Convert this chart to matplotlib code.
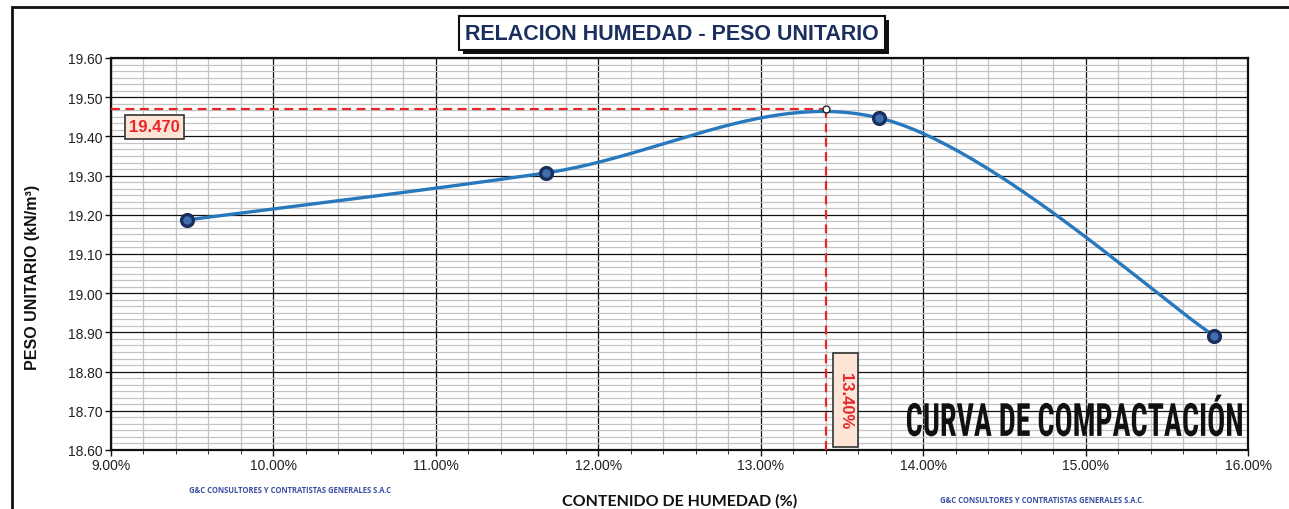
import numpy as np
import matplotlib
matplotlib.use("Agg")
import matplotlib.pyplot as plt
from matplotlib.ticker import MultipleLocator, FuncFormatter
from matplotlib.patches import Rectangle
from matplotlib.patheffects import AbstractPathEffect
from matplotlib.transforms import Affine2D

# Proctor test results
humedad = [9.47, 11.68, 13.73, 15.79]             # % moisture content
peso_unitario = [19.187, 19.307, 19.447, 18.892]  # kN/m3

# optimum from the compaction curve
hum_optima = 13.40
peso_max = 19.470

x_lim = (9.0, 16.0)
y_lim = (18.60, 19.60)

titulo = "RELACION HUMEDAD - PESO UNITARIO"
x_label = "CONTENIDO DE HUMEDAD (%)"
y_label = "PESO UNITARIO (kN/m³)"
rotulo = "CURVA DE COMPACTACIÓN"
empresa = "G&C CONSULTORES Y CONTRATISTAS GENERALES S.A.C"

LINE_BLUE = "#2878BD"
NAVY = "#1B2F5E"
RED = "#E8262A"


def catmull_rom(pts, n=60):
    # Excel-style smoothed line through the points (display space)
    pts = np.asarray(pts, dtype=float)
    ext = np.vstack([pts[0], pts, pts[-1]])
    out = []
    for i in range(1, len(ext) - 2):
        p0, p1, p2, p3 = ext[i - 1], ext[i], ext[i + 1], ext[i + 2]
        m1 = (p2 - p0) / 2.0
        m2 = (p3 - p1) / 2.0
        t = np.linspace(0, 1, n)[:, None]
        h00 = 2 * t**3 - 3 * t**2 + 1
        h10 = t**3 - 2 * t**2 + t
        h01 = -2 * t**3 + 3 * t**2
        h11 = t**3 - t**2
        out.append(h00 * p1 + h10 * m1 + h01 * p2 + h11 * m2)
    return np.vstack(out)


class Stretch(AbstractPathEffect):
    """Stretch a text vertically around its baseline."""

    def __init__(self, text, sy=1.0):
        super().__init__()
        self.text = text
        self.sy = sy

    def draw_path(self, renderer, gc, tpath, affine, rgbFace=None):
        _, y0 = self.text.get_transform().transform(self.text.get_position())
        aff = affine + Affine2D().translate(0, -y0).scale(1, self.sy).translate(0, y0)
        renderer.draw_path(gc, tpath, aff, rgbFace)


fig = plt.figure(figsize=(12.89, 5.10), dpi=100)
fig.patch.set_facecolor("white")

# outer frame of the sheet
fig.patches.append(Rectangle((12 / 1289, -0.1), 1.2, 1 - 8 / 510 + 0.1,
                             transform=fig.transFigure, fill=False,
                             edgecolor="#111111", lw=2))

ax = fig.add_axes([111 / 1289, 59 / 510, (1248 - 111) / 1289, (451 - 59) / 510])
ax.set_xlim(*x_lim)
ax.set_ylim(*y_lim)

# grid
ax.xaxis.set_major_locator(MultipleLocator(1.0))
ax.xaxis.set_minor_locator(MultipleLocator(0.2))
ax.yaxis.set_major_locator(MultipleLocator(0.10))
ax.yaxis.set_minor_locator(MultipleLocator(0.1 / 6))
ax.grid(which="minor", color="#c4c4c4", lw=0.9)
ax.grid(which="major", color="#111111", lw=0.9)
ax.set_axisbelow(True)
for s in ax.spines.values():
    s.set_color("#111111")
    s.set_linewidth(1.6)

ax.xaxis.set_major_formatter(FuncFormatter(lambda v, p: f"{v:.2f}%"))
ax.yaxis.set_major_formatter(FuncFormatter(lambda v, p: f"{v:.2f}"))
ax.tick_params(which="major", direction="out", length=4, width=1, color="#111111",
               labelsize=10, pad=2)
ax.tick_params(axis="y", which="minor", length=0)
ax.tick_params(axis="x", which="minor", direction="out", length=3, color="#111111")
for lab in ax.get_xticklabels() + ax.get_yticklabels():
    lab.set_fontfamily("Liberation Sans")
    lab.set_color("#222222")

ax.set_xlabel(x_label, fontfamily="Lato", fontweight="bold", fontsize=11.5,
              color="#111111", labelpad=15)
ax.set_ylabel(y_label, fontfamily="Liberation Sans", fontweight="bold", fontsize=11.5,
              color="#111111")
ax.yaxis.set_label_coords(-0.0624, 0.444)

# smoothed compaction curve
disp = ax.transData.transform(np.column_stack([humedad, peso_unitario]))
curve = ax.transData.inverted().transform(catmull_rom(disp))
ax.plot(curve[:, 0], curve[:, 1], color=LINE_BLUE, lw=2.4, zorder=4)
ax.plot(humedad, peso_unitario, "o", ms=8.5, mfc="#3D6FB0", mec=NAVY, mew=2.4, zorder=5)

# optimum lines
ax.plot([x_lim[0], hum_optima], [peso_max, peso_max], color=RED, lw=1.6,
        dashes=(4, 2.5), zorder=3)
ax.plot([hum_optima, hum_optima], [y_lim[0], peso_max], color=RED, lw=1.6,
        dashes=(4, 2.5), zorder=3)
ax.plot(hum_optima, peso_max, "o", ms=5, mfc="white", mec="#222222", mew=1, zorder=6)

ax.text(9.11, 19.424, f"{peso_max:.3f}", ha="left", va="center", fontsize=12,
        fontweight="bold", color=RED, fontfamily="Liberation Sans", zorder=7,
        bbox=dict(boxstyle="square,pad=0.25", fc="#FCE4D6", ec="#333333", lw=1.2))

ax.add_patch(Rectangle((13.446, 18.608), 0.154, 0.239, fc="#FCE4D6", ec="#333333",
                       lw=1.2, zorder=6))
ax.text(13.523, 18.7275, f"{hum_optima:.2f}%", ha="center", va="center", rotation=270,
        fontsize=12, fontweight="bold", color=RED, fontfamily="Liberation Sans",
        zorder=7)

sello = ax.text(15.97, 18.636, rotulo, ha="right", va="baseline", fontsize=33,
                fontweight="bold", family=["Roboto Condensed", "DejaVu Sans"],
                color="#111111", zorder=7)

# title box
tx, ty = 672 / 1289, 1 - 34 / 510
tit = fig.text(tx, ty, titulo, ha="center", va="center", fontsize=15.5,
               fontweight="bold", fontfamily="Liberation Sans", color=NAVY,
               bbox=dict(boxstyle="square,pad=0.3", fc="white", ec="#111111", lw=1.5))

# company stamps
fig.text(290 / 1289, 1 - 491 / 510, empresa, ha="center", va="center", fontsize=5.5,
         fontweight="bold", color="#3B4FA3", fontfamily="Open Sans")
fig.text(1042 / 1289, 1 - 501 / 510, empresa + ".", ha="center", va="center",
         fontsize=5.5, fontweight="bold", color="#3B4FA3", fontfamily="Open Sans")

# fit the stamp text to its width (stretched tall) and add the title shadow
fig.canvas.draw()
w = sello.get_window_extent().width
k = 338.0 / w
sello.set_fontsize(33 * k)
sello.set_path_effects([Stretch(sello, 1.0 / k)])
bb = tit.get_bbox_patch().get_window_extent()
fig.patches.append(Rectangle((bb.x0 + 4, bb.y0 - 4), bb.width, bb.height,
                             transform=None, fc="#111111", ec="none", zorder=0.5))

fig.savefig("out.png", dpi=100, facecolor="white")
